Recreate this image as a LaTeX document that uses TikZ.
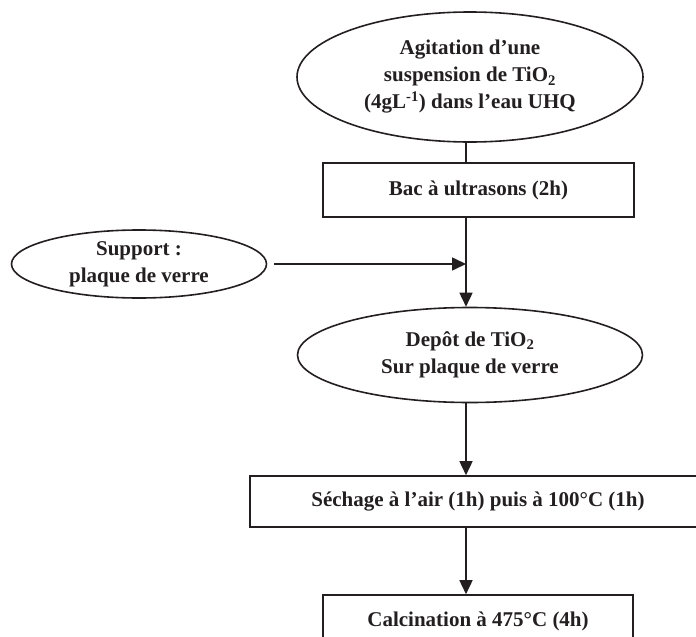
\documentclass[tikz,border=0pt]{standalone}
\usepackage{fontspec}
\setmainfont{Liberation Serif}
\usetikzlibrary{arrows.meta,shapes.geometric}
\definecolor{inkdark}{RGB}{35,31,32}

\begin{document}
\begin{tikzpicture}[x=1pt,y=-1pt,
  every node/.style={font=\bfseries\fontsize{21}{27}\selectfont,text=inkdark,align=center,inner sep=0pt},
  ovalbox/.style={draw=inkdark,line width=1.6pt,ellipse},
  stepbox/.style={draw=inkdark,line width=1.6pt,rectangle},
  link/.style={draw=inkdark,line width=1.6pt},
  arr/.style={link,-{Triangle[length=14pt,width=13pt]}}]
  \useasboundingbox (0,0) rectangle (696,637);
  \clip (0,0) rectangle (696,637);
  \coordinate (ax) at (466,0);
  \node[ovalbox,minimum width=346pt,minimum height=130pt] (agit) at (470,77) {Agitation d’une\\suspension de TiO\textsubscript{2}\\(4gL\textsuperscript{-1}) dans l’eau UHQ};
  \node[stepbox,minimum width=311pt,minimum height=54pt] (bac) at (478.5,190) {Bac à ultrasons (2h)};
  \node[ovalbox,minimum width=255pt,minimum height=68pt] (sup) at (139,264) {Support :\\plaque de verre};
  \node[ovalbox,minimum width=345pt,minimum height=95pt] (depot) at (470,355) {Depôt de TiO\textsubscript{2}\\Sur plaque de verre};
  \node[stepbox,minimum width=456pt,minimum height=51pt] (sech) at (478,501.5) {Séchage à l’air (1h) puis à 100°C (1h)};
  \node[stepbox,minimum width=310pt,minimum height=52pt] (calc) at (478,621) {Calcination à 475°C (4h)};
  \draw[link] (agit.south -| ax) -- (bac.north -| ax);
  \draw[arr] (bac.south -| ax) -- (depot.north -| ax);
  \draw[arr] ([xshift=7pt]sup.east) -- (sup.east -| ax);
  \draw[arr] (depot.south -| ax) -- (sech.north -| ax);
  \draw[arr] (sech.south -| ax) -- (calc.north -| ax);
\end{tikzpicture}
\end{document}
